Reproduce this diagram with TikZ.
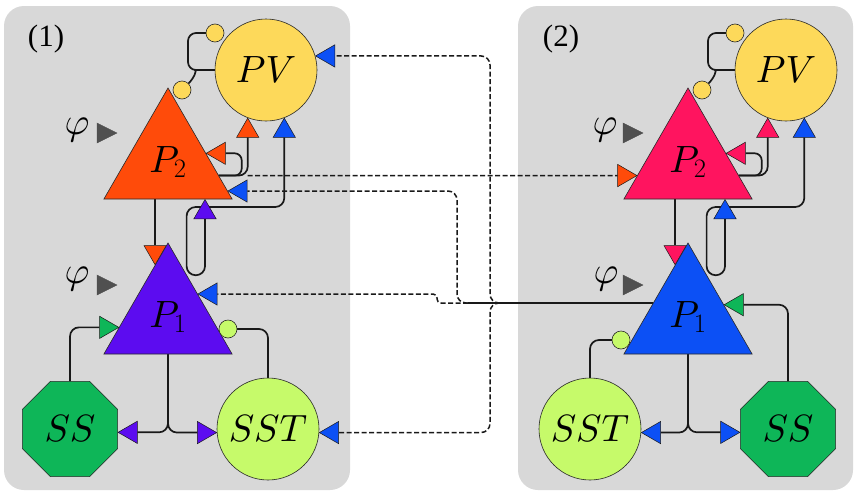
\RequirePackage{fix-cm}
\documentclass[tikz,border=0pt]{standalone}
\usepackage{fontspec}
\newfontfamily\labfont{Liberation Serif}
\DeclareFontShape{OML}{cmm}{m}{it}{<->cmmi10}{}
\usetikzlibrary{arrows.meta,shapes.geometric,calc}
\definecolor{panel}{RGB}{216,216,216}
\definecolor{pvy}{RGB}{253,217,90}
\definecolor{ora}{RGB}{255,75,10}
\definecolor{crim}{RGB}{255,20,95}
\definecolor{vio}{RGB}{92,12,240}
\definecolor{blu}{RGB}{12,80,245}
\definecolor{ssg}{RGB}{14,182,88}
\definecolor{sstg}{RGB}{198,250,106}
\definecolor{phig}{RGB}{80,80,80}
\definecolor{edgec}{RGB}{40,40,40}
\pgfdeclarelayer{back}
\pgfdeclarelayer{mid}
\pgfsetlayers{back,mid,main}
\tikzset{
  cell/.style={draw=edgec, line width=0.6pt, inner sep=0pt, outer sep=0pt},
  bigfont/.style={font=\fontsize{38}{42}\selectfont},
  circ/.style={cell, circle, minimum size=102pt, bigfont},
  tri/.style={cell, regular polygon, regular polygon sides=3, minimum size=148pt, bigfont},
  oct/.style={cell, regular polygon, regular polygon sides=8, minimum size=103pt, bigfont},
  inh/.style={cell, circle, minimum size=18pt},
  phinode/.style={inner sep=0pt, bigfont},
  lab/.style={inner sep=0pt, font=\labfont\fontsize{31}{34}\selectfont},
  wire/.style={line width=1.7pt, draw=black!90, rounded corners=9pt},
  dwire/.style={wire, line width=1.5pt, dash pattern=on 5pt off 2.5pt},
  hd/.style={-{Triangle[length=20pt,width=23pt,fill=#1,line width=0.5pt]}},
  bi/.style 2 args={{Triangle[length=20pt,width=23pt,fill=#1,line width=0.5pt]}-{Triangle[length=20pt,width=23pt,fill=#2,line width=0.5pt]}},
  phitip/.style={fill=phig, draw=black!70, line width=0.4pt},
}
\begin{document}
\begin{tikzpicture}[x=1pt,y=-1pt]
\useasboundingbox (0,0) rectangle (856,493);
\begin{pgfonlayer}{back}
  \fill[white] (0,0) rectangle (856,493);
  \fill[panel, rounded corners=20pt] (4,6) rectangle (350,490);
  \fill[panel, rounded corners=20pt] (518,6) rectangle (853,490);
\end{pgfonlayer}

% labels
\node[lab] (lab1) at (46,39) {(1)};
\node[lab] (lab2) at (561,39) {(2)};

% panel 1 nodes
\node[circ, fill=pvy] (PVa) at (266,70) {$PV$};
\node[tri, fill=ora] (P2a) at (168,162) {$P_2$};
\node[tri, fill=vio] (P1a) at (168,317) {$P_1$};
\node[oct, fill=ssg] (SSa) at (70,429) {$SS$};
\node[circ, fill=sstg] (SSTa) at (268,429) {$SST$};
\node[inh, fill=pvy] (ia1) at (215,33) {};
\node[inh, fill=pvy] (ia2) at (182,90) {};
\node[inh, fill=sstg] (ia3) at (228,329) {};

% panel 2 nodes
\node[circ, fill=pvy] (PVb) at (786,70) {$PV$};
\node[tri, fill=crim] (P2b) at (688,162) {$P_2$};
\node[tri, fill=blu] (P1b) at (688,317) {$P_1$};
\node[circ, fill=sstg] (SSTb) at (590,429) {$SST$};
\node[oct, fill=ssg] (SSb) at (788,429) {$SS$};
\node[inh, fill=pvy] (ib1) at (735,33) {};
\node[inh, fill=pvy] (ib2) at (702,90) {};
\node[inh, fill=sstg] (ib3) at (621,340) {};

% phi inputs
\node[phinode] (phA1) at (77,130) {$\varphi$};
\node[phinode] (phA2) at (77,279) {$\varphi$};
\node[phinode] (phB1) at (605,130) {$\varphi$};
\node[phinode] (phB2) at (606,279) {$\varphi$};
\path[phitip] (97,123) -- (117,133) -- (97,143) -- cycle;
\path[phitip] (97,275) -- (117,285) -- (97,295) -- cycle;
\path[phitip] (623,123) -- (643,133) -- (623,143) -- cycle;
\path[phitip] (623,275) -- (643,285) -- (623,295) -- cycle;

\coordinate (h207) at (0,207);
\coordinate (vx1) at (490,0);
\coordinate (vx2) at (457,0);
\coordinate (vj1) at (500,0);
\coordinate (vj2) at (468,0);
\coordinate (j1) at (P1b.158 -| vj1);
\coordinate (j2) at (P1b.158 -| vj2);

\begin{pgfonlayer}{mid}
% ---- panel 1 ----
\draw[wire, rounded corners=8pt] (PVa.west) -- ++(-27,0) |- (ia1.west);
\draw[wire] (PVa.west) -- ++(-11,0) .. controls +(-7,0) and +(6,-6) .. (ia2.45);
\draw[wire, hd=ora] (P1a.104 |- P2a.south) -- (P1a.104);
\draw[wire, bi={blu}{vio}] (PVa.-69) -- (PVa.-69 |- h207) -| (P1a.66) -| ([xshift=37pt]P2a.south);
\draw[wire, hd=ora] (P2a.-15) -| (PVa.-111);
\draw[wire, hd=ora, rounded corners=7pt] (P2a.-15) -| ([xshift=36pt]P2a.13) -- (P2a.13);
\draw[wire, hd=vio] (P1a.south) |- (SSa.-4);
\draw[wire, hd=vio] (P1a.south) |- (SSTa.184);
\draw[wire, hd=ssg] (SSa.north) |- (P1a.192);
\draw[wire] (SSTa.north) |- (ia3);

% ---- panel 2 ----
\draw[wire, rounded corners=8pt] (PVb.west) -- ++(-27,0) |- (ib1.west);
\draw[wire] (PVb.west) -- ++(-11,0) .. controls +(-7,0) and +(6,-6) .. (ib2.45);
\draw[wire, hd=crim] (P1b.104 |- P2b.south) -- (P1b.104);
\draw[wire, bi={blu}{blu}] (PVb.-69) -- (PVb.-69 |- h207) -| (P1b.66) -| ([xshift=37pt]P2b.south);
\draw[wire, hd=crim] (P2b.-15) -| (PVb.-111);
\draw[wire, hd=crim, rounded corners=7pt] (P2b.-15) -| ([xshift=36pt]P2b.13) -- (P2b.13);
\draw[wire, hd=blu] (P1b.south) |- (SSTb.-4);
\draw[wire, hd=blu] (P1b.south) |- (SSb.184);
\draw[wire, hd=ssg] (SSb.north) |- (P1b.19);
\draw[wire] (SSTb.north) |- (ib3);

% ---- between panels ----
\draw[dwire, hd=ora] (PVa.-111 |- P2a.-15) -- (P2b.195);
\draw[wire] (P1b.158) -- (j2);
\draw[dwire, hd=blu] (j1) -| (PVa.16 -| vx1) -- (PVa.16);
\draw[dwire, hd=blu] (j1) -| (SSTa.-4 -| vx1) -- (SSTa.-4);
\draw[dwire, hd=blu] (j2) -| (P2a.-26 -| vx2) -- (P2a.-26);
\draw[dwire, hd=blu, rounded corners=4pt] (j2) -- ++(-31,0) |- (P1a.38);
\end{pgfonlayer}
\end{tikzpicture}
\end{document}
